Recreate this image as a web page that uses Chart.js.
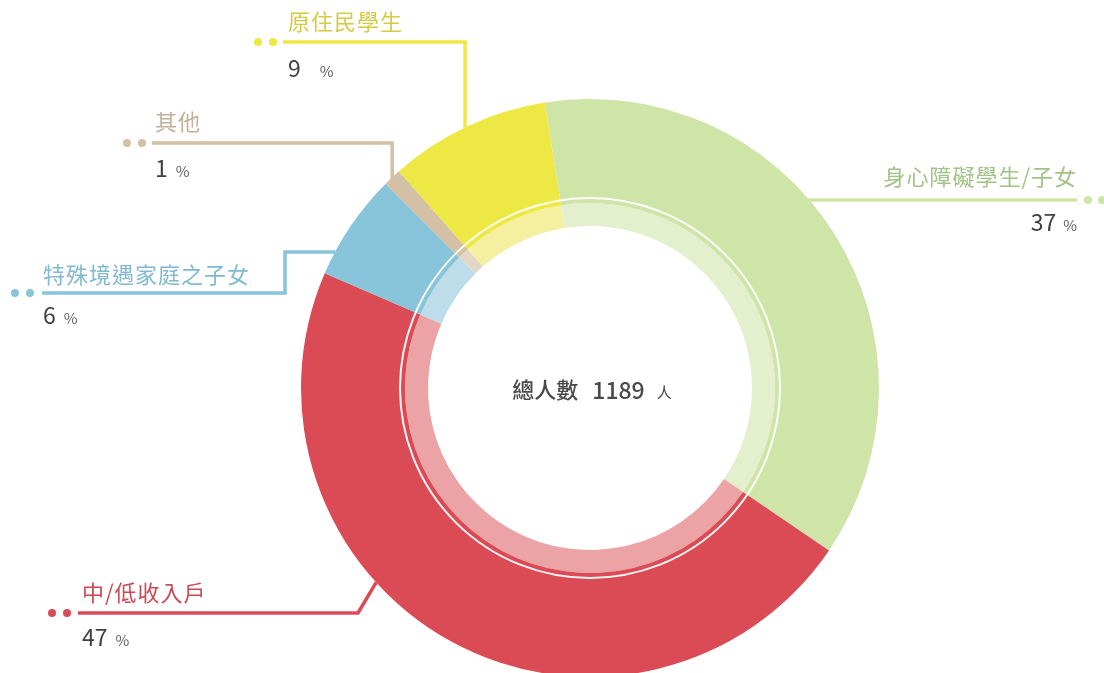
<!DOCTYPE html>
<html><head><meta charset="utf-8">
<script src="https://cdn.jsdelivr.net/npm/chart.js@4/dist/chart.umd.min.js"></script>
<style>html,body{margin:0;padding:0;background:#fff}#wrap{width:1104px;height:673px;position:relative}</style>
</head><body><div id="wrap"><canvas id="c"></canvas></div>
<script>
// ---- data ----
const categories = ['身心障礙學生/子女', '中/低收入戶', '特殊境遇家庭之子女', '其他', '原住民學生'];
const percents = [37, 47, 6, 1, 9];
const totalPeople = 1189;
const centerLabel = '總人數';
const peopleUnit = '人';
// ---- styles ----
const colors = ['#cfe4a7', '#db4b55', '#88c4da', '#d3c0a5', '#eee845'];
const lightColors = ['#e3efcd', '#eba3a5', '#bcdde9', '#e2d6c6', '#f4f0a0'];
const labelColors = ['#a2c286', '#cc4853', '#80bad0', '#c2b197', '#d4cb44'];
const FONT = '"Noto Sans CJK TC", "Noto Sans", sans-serif';

// label layout (positions of annotation text / leader elbows)
const layout = [
  {align: 'right', textX: 1077, textY: 177, pctY: 222, lineY: 200, dots: [1088, 1102], gap: 7},
  {align: 'left', textX: 82, textY: 593, pctY: 637, lineY: 613, dots: [52, 67], gap: 8},
  {align: 'left', textX: 43, textY: 275, pctY: 315, lineY: 293, dots: [15, 30], gap: 8},
  {align: 'left', textX: 155, textY: 122, pctY: 168, lineY: 143, dots: [127, 142], gap: 8},
  {align: 'left', textX: 288, textY: 22, pctY: 68, lineY: 42, dots: [258, 273], gap: 19}
];

function rayCircle(px, py, dx, dy, cx, cy, R) {
  const L = Math.hypot(dx, dy); dx /= L; dy /= L;
  const fx = px - cx, fy = py - cy;
  const b = fx * dx + fy * dy;
  const c = fx * fx + fy * fy - R * R;
  const disc = b * b - c;
  if (disc < 0) return [px, py];
  const t = -b - Math.sqrt(disc);
  return [px + t * dx, py + t * dy];
}

const annotPlugin = {
  id: 'annot',
  afterDatasetsDraw(chart) {
    const ctx = chart.ctx;
    const meta = chart.getDatasetMeta(0);
    const a0 = meta.data[0];
    const cx = a0.x, cy = a0.y, R = a0.outerRadius;
    // thin white circle between outer ring and light band
    ctx.save();
    ctx.beginPath();
    ctx.arc(cx, cy, R - 99, 0, Math.PI * 2);
    ctx.strokeStyle = 'rgba(255,255,255,0.95)';
    ctx.lineWidth = 2;
    ctx.stroke();
    ctx.restore();

    categories.forEach((name, i) => {
      const L = layout[i];
      const arc = meta.data[i];
      const mid = (arc.startAngle + arc.endAngle) / 2;
      let pts = [];
      if (i === 0) {
        const e = rayCircle(L.textX, L.lineY, -1, 0, cx, cy, R);
        pts = [[L.textX, L.lineY], [e[0] - 6, e[1]]];
      } else if (i === 1) {
        const ex = 358;
        const e = rayCircle(ex, L.lineY, 19, -32, cx, cy, R);
        pts = [[L.textX - 4, L.lineY], [ex, L.lineY], e];
      } else if (i === 2) {
        const ex = 285, ey = 252;
        const e = rayCircle(ex, ey, 1, 0, cx, cy, R);
        pts = [[L.textX - 1, L.lineY], [ex, L.lineY], [ex, ey], e];
      } else if (i === 3) {
        const bx = cx + R * Math.cos(mid);
        const e = rayCircle(bx, L.lineY, 0, 1, cx, cy, R);
        pts = [[L.textX - 3, L.lineY], [bx, L.lineY], [e[0], e[1] + 4]];
      } else {
        const bx = 465;
        const e = rayCircle(bx, L.lineY, 0, 1, cx, cy, R);
        pts = [[L.textX - 5, L.lineY], [bx, L.lineY], e];
      }
      ctx.save();
      ctx.strokeStyle = colors[i];
      ctx.lineWidth = 3.5;
      ctx.lineJoin = 'miter';
      ctx.beginPath();
      pts.forEach((p, k) => k ? ctx.lineTo(p[0], p[1]) : ctx.moveTo(p[0], p[1]));
      ctx.stroke();
      ctx.fillStyle = colors[i];
      L.dots.forEach(dx => { ctx.beginPath(); ctx.arc(dx, L.lineY, 4, 0, Math.PI * 2); ctx.fill(); });

      // category label
      ctx.font = '22px ' + FONT;
      ctx.letterSpacing = '1px';
      ctx.fillStyle = labelColors[i];
      ctx.textBaseline = 'middle';
      ctx.textAlign = L.align;
      ctx.fillText(name, L.textX, L.textY);
      ctx.letterSpacing = '0px';

      // percentage
      const num = String(percents[i]);
      ctx.font = '23px ' + FONT;
      const nw = ctx.measureText(num).width;
      ctx.font = '15px ' + FONT;
      const pw = ctx.measureText('%').width;
      let x0 = L.align === 'right' ? L.textX - (nw + L.gap + pw) : L.textX;
      ctx.textAlign = 'left';
      ctx.fillStyle = '#404040';
      ctx.font = '23px ' + FONT;
      ctx.fillText(num, x0, L.pctY);
      ctx.fillStyle = '#5e5e5e';
      ctx.font = '15px ' + FONT;
      ctx.fillText('%', x0 + nw + L.gap, L.pctY + 3);
      ctx.restore();
    });

    // center text
    ctx.save();
    ctx.textBaseline = 'middle';
    ctx.textAlign = 'left';
    ctx.fillStyle = '#4a4a4a';
    ctx.font = '500 22px ' + FONT;
    const t1 = centerLabel, t2 = String(totalPeople);
    const w1 = ctx.measureText(t1).width;
    ctx.font = '500 23px ' + FONT;
    const w2 = ctx.measureText(t2).width;
    ctx.font = '15px ' + FONT;
    const w3 = ctx.measureText(peopleUnit).width;
    const total = w1 + 14 + w2 + 12 + w3;
    let x = cx - total / 2 + 2;
    const y = cy + 2;
    ctx.font = '500 22px ' + FONT; ctx.fillText(t1, x, y); x += w1 + 14;
    ctx.font = '500 23px ' + FONT; ctx.fillText(t2, x, y); x += w2 + 12;
    ctx.font = '15px ' + FONT; ctx.fillText(peopleUnit, x, y + 2);
    ctx.restore();
  }
};

new Chart(document.getElementById('c'), {
  type: 'doughnut',
  data: {
    labels: categories,
    datasets: [
      {data: percents, backgroundColor: colors, borderWidth: 0, weight: 104},
      {data: percents, backgroundColor: lightColors, borderWidth: 0, weight: 23}
    ]
  },
  options: {
    responsive: true,
    maintainAspectRatio: false,
    animation: false,
    events: [],
    rotation: -9,
    radius: 289,
    cutout: '56.06%',
    layout: {padding: {left: 76, right: 0, top: 103, bottom: 0}},
    plugins: {legend: {display: false}, tooltip: {enabled: false}, title: {display: false}}
  },
  plugins: [annotPlugin]
});
</script>
</body></html>
